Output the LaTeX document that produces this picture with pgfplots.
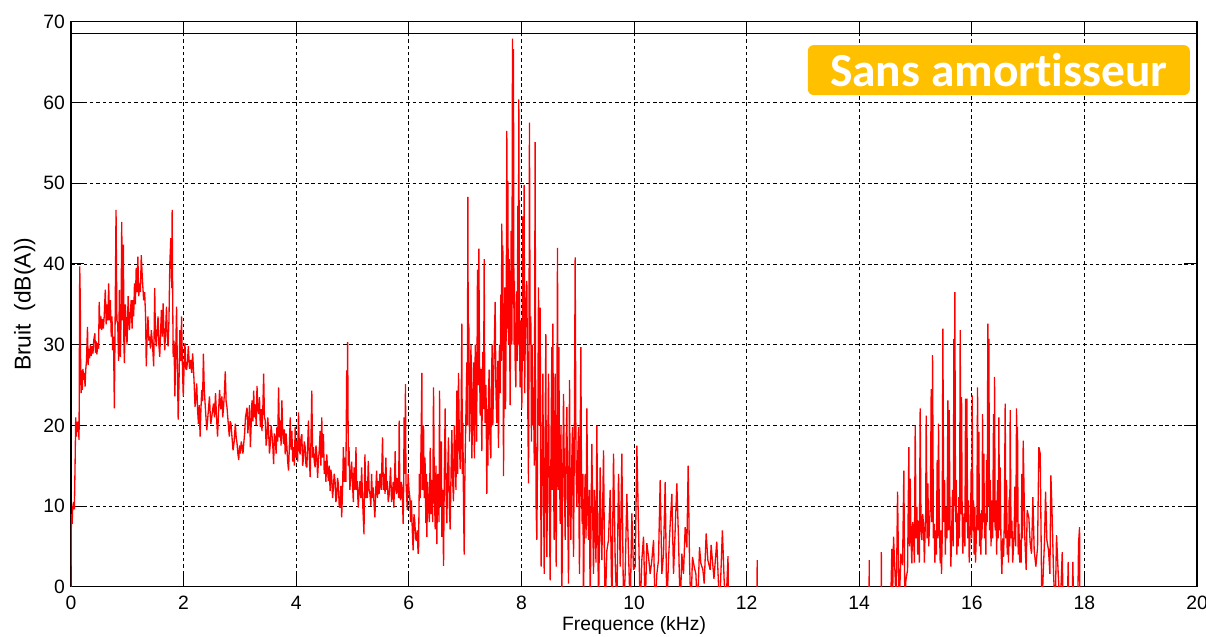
\documentclass[border=0pt]{standalone}
\usepackage{fontspec}
\setmainfont{Liberation Sans}
\newfontfamily\calib[Ligatures=NoCommon]{Carlito}
\usepackage{pgfplots}
\pgfplotsset{compat=1.18}
\definecolor{spec}{RGB}{255,0,0}
\definecolor{tag}{RGB}{255,192,0}

\begin{document}
\begin{tikzpicture}
\begin{axis}[
  name=ax, scale only axis, width=22.52cm, height=11.3cm,
  xmin=0, xmax=20, ymin=0, ymax=70,
  xtick={0,2,...,20}, ytick={0,10,...,70},
  tick align=inside, major tick length=0.26cm,
  tick style={black, line width=0.5pt},
  grid=major,
  major grid style={black, line width=0.4pt, dash pattern=on 2pt off 1.6pt},
  axis line style={black, line width=0.6pt},
  font=\fontsize{11}{13}\selectfont,
  /pgf/number format/assume math mode=true,
  xticklabel style={yshift=-1.7pt},
  xlabel={Frequence (kHz)}, ylabel={Bruit\hspace{0.55em}(dB(A))},
  xlabel style={at={(axis description cs:0.5,-0.069)}, anchor=center},
  ylabel style={at={(axis description cs:-0.041,0.5)}, anchor=center,
                font=\fontsize{13}{15}\selectfont},
]
% upper reference line
\addplot[black, line width=0.6pt, forget plot] coordinates {(0,68.5) (20,68.5)};

% noise spectrum (dB(A)) versus frequency (kHz)
\addplot[spec, line width=0.75pt, line join=bevel] coordinates {
(0.000,0.0) (0.004,6.5) (0.010,9.0) (0.020,7.8) (0.030,9.8) (0.045,10.5) (0.060,9.6) (0.072,14.9) (0.084,21.0) (0.095,18.6) (0.105,20.4) (0.113,19.2) (0.125,20.5) (0.143,18.2) (0.155,39.7) (0.165,35.5) (0.172,26.0) (0.180,24.0) (0.190,26.8) (0.200,24.4) (0.212,27.0) (0.225,25.6) (0.238,26.5) (0.250,24.8) (0.262,26.9) (0.275,28.0) (0.293,32.2) (0.305,27.5) (0.318,29.5) (0.330,28.3) (0.345,30.0) (0.360,28.6) (0.375,29.8) (0.390,28.9) (0.405,30.6) (0.424,31.4) (0.435,29.0) (0.448,30.4) (0.460,28.8) (0.475,30.2) (0.490,29.5) (0.501,35.3) (0.515,32.0) (0.530,33.5) (0.545,31.8) (0.560,33.2) (0.575,32.0) (0.590,33.5) (0.609,36.8) (0.625,32.5) (0.640,35.0) (0.655,33.0) (0.669,37.6) (0.685,33.0) (0.699,35.5) (0.715,31.0) (0.728,33.5) (0.740,29.3) (0.755,31.0) (0.770,22.1) (0.785,34.0) (0.800,46.7) (0.815,33.0) (0.830,32.6) (0.845,28.0) (0.860,36.8) (0.870,31.0) (0.878,28.5) (0.890,34.0) (0.901,45.2) (0.915,33.0) (0.931,42.4) (0.940,30.0) (0.949,27.7) (0.965,35.0) (0.979,32.6) (0.995,30.0) (1.015,36.0) (1.027,33.0) (1.039,31.8) (1.055,34.0) (1.069,35.5) (1.085,32.0) (1.099,35.5) (1.113,33.5) (1.128,37.6) (1.143,35.0) (1.158,39.5) (1.172,36.5) (1.188,40.9) (1.203,36.0) (1.218,37.6) (1.233,36.5) (1.248,41.1) (1.266,38.4) (1.290,35.5) (1.308,36.5) (1.325,33.5) (1.337,27.3) (1.352,31.0) (1.367,33.5) (1.382,30.5) (1.397,31.0) (1.412,29.5) (1.427,31.8) (1.448,30.0) (1.469,27.3) (1.487,37.0) (1.500,31.0) (1.516,29.8) (1.531,32.0) (1.546,33.5) (1.561,30.0) (1.576,28.5) (1.591,31.5) (1.606,34.3) (1.621,31.0) (1.636,35.1) (1.651,31.5) (1.666,29.3) (1.681,32.0) (1.696,34.7) (1.710,31.0) (1.725,29.8) (1.740,33.0) (1.755,40.0) (1.773,43.2) (1.790,37.0) (1.797,46.7) (1.806,36.0) (1.815,28.5) (1.830,30.5) (1.845,23.6) (1.860,29.0) (1.875,34.7) (1.890,27.0) (1.904,20.7) (1.920,26.0) (1.934,31.8) (1.950,28.0) (1.964,33.5) (1.980,27.0) (1.994,23.6) (2.010,27.5) (2.024,30.2) (2.040,27.0) (2.054,26.9) (2.070,28.0) (2.084,29.8) (2.105,27.0) (2.125,28.1) (2.143,26.5) (2.161,28.9) (2.185,25.6) (2.203,22.3) (2.218,23.5) (2.233,25.2) (2.248,22.0) (2.263,20.2) (2.278,22.5) (2.293,18.6) (2.308,22.0) (2.322,24.4) (2.337,23.0) (2.352,28.9) (2.367,24.5) (2.382,22.7) (2.397,21.0) (2.412,19.4) (2.436,21.5) (2.460,23.6) (2.472,21.5) (2.484,20.2) (2.508,21.5) (2.531,22.7) (2.549,21.0) (2.567,24.0) (2.585,21.0) (2.603,18.6) (2.620,21.5) (2.639,24.4) (2.660,22.0) (2.681,23.6) (2.695,21.0) (2.710,22.3) (2.725,24.0) (2.740,26.7) (2.755,23.0) (2.770,22.3) (2.790,20.5) (2.812,18.6) (2.827,20.5) (2.842,20.2) (2.860,18.5) (2.878,16.9) (2.898,18.0) (2.919,20.2) (2.934,18.5) (2.949,17.8) (2.964,16.5) (2.979,15.7) (2.994,17.5) (3.009,16.5) (3.024,18.0) (3.039,17.4) (3.054,16.5) (3.069,17.8) (3.084,19.0) (3.099,21.0)
(3.127,22.2) (3.141,19.0) (3.156,20.6) (3.171,22.5) (3.186,17.3) (3.200,20.0) (3.215,23.1) (3.230,20.5) (3.245,24.3) (3.259,21.0) (3.274,22.6) (3.289,20.0) (3.304,24.9) (3.318,22.0) (3.333,21.4) (3.348,23.5) (3.363,19.8) (3.377,22.0) (3.392,19.3) (3.407,22.0) (3.422,26.4) (3.436,21.0) (3.451,20.6) (3.466,17.5) (3.481,18.5) (3.495,21.0) (3.510,19.3) (3.525,16.5) (3.540,17.7) (3.554,20.0) (3.569,18.9) (3.584,17.5) (3.599,15.2) (3.613,19.0) (3.628,18.5) (3.643,16.5) (3.658,19.8) (3.672,18.0) (3.687,24.7) (3.702,18.5) (3.717,20.6) (3.731,17.5) (3.746,23.1) (3.761,19.0) (3.776,17.7) (3.790,19.5) (3.805,16.4) (3.820,19.0) (3.835,17.3) (3.849,15.5) (3.864,14.4) (3.879,17.5) (3.894,21.0) (3.908,17.0) (3.923,19.3) (3.938,15.5) (3.953,17.3) (3.967,15.0) (3.982,19.8) (3.997,16.0) (4.012,18.1) (4.026,15.5) (4.041,21.6) (4.056,17.0) (4.071,16.4) (4.085,18.5) (4.100,18.9) (4.115,15.0) (4.130,16.0) (4.144,18.0) (4.159,17.3) (4.174,15.0) (4.189,14.8) (4.203,17.5) (4.218,20.6) (4.233,16.0) (4.248,13.6) (4.262,18.0) (4.277,24.3) (4.292,16.0) (4.307,17.3) (4.321,15.5) (4.336,14.8) (4.351,17.5) (4.366,16.4) (4.380,13.5) (4.395,15.6) (4.410,17.0) (4.425,19.3) (4.439,15.0) (4.454,21.0) (4.469,16.0) (4.484,18.9) (4.498,14.0) (4.513,15.6) (4.528,13.0) (4.543,16.4) (4.557,14.5) (4.572,13.1) (4.587,15.0) (4.602,11.9) (4.616,14.5) (4.631,13.6) (4.646,11.0) (4.661,12.3) (4.675,14.0) (4.690,13.1) (4.705,10.5) (4.720,11.1) (4.734,13.5) (4.749,12.7) (4.764,10.0) (4.779,9.8) (4.793,12.5) (4.808,8.6) (4.823,12.0) (4.838,17.3) (4.852,13.0) (4.867,16.0) (4.882,13.0) (4.897,26.8) (4.905,20.0) (4.914,30.3) (4.926,15.0) (4.938,17.3) (4.953,12.0) (4.968,13.6) (4.985,15.5) (5.003,12.3) (5.015,10.5) (5.027,14.8) (5.045,12.0) (5.062,17.3) (5.074,12.0) (5.086,13.1) (5.095,11.0) (5.103,9.8) (5.118,12.0) (5.133,13.1) (5.148,11.0) (5.162,14.8) (5.183,10.0) (5.204,6.5) (5.212,12.0) (5.221,16.4) (5.236,11.0) (5.251,13.1) (5.265,11.0) (5.280,15.6) (5.295,12.0) (5.310,11.5) (5.325,10.0) (5.339,14.0) (5.354,11.0) (5.369,12.3) (5.384,10.0) (5.398,8.6) (5.413,12.0) (5.428,14.4) (5.443,11.0) (5.457,13.1) (5.472,11.5) (5.487,14.0) (5.510,12.0) (5.534,18.5) (5.548,12.0) (5.563,14.0) (5.578,11.5) (5.593,16.0) (5.605,12.0) (5.617,13.1) (5.635,10.5) (5.652,11.5) (5.664,13.0) (5.676,14.8) (5.694,10.5) (5.711,11.5) (5.723,13.0) (5.735,9.8) (5.746,13.0) (5.758,16.8) (5.770,12.0) (5.782,11.5) (5.797,13.5) (5.811,12.3) (5.820,11.0) (5.829,20.6) (5.841,12.0) (5.853,10.7) (5.868,13.0) (5.882,11.9) (5.891,10.0) (5.900,7.8) (5.908,12.0) (5.917,21.0) (5.929,14.0) (5.941,25.1) (5.950,13.0) (5.959,11.5) (5.974,9.5) (5.988,14.0) (6.003,12.0) (6.018,11.1) (6.032,8.0) (6.047,10.7) (6.062,7.0) (6.077,4.5) (6.092,9.0) (6.106,8.2) (6.121,6.0) (6.136,5.7) (6.150,7.0) (6.165,4.1)
(6.173,4.4) (6.188,14.0) (6.203,11.0) (6.218,18.0) (6.232,26.5) (6.241,12.0) (6.250,15.0) (6.262,20.0) (6.274,11.0) (6.288,16.0) (6.303,7.9) (6.312,14.0) (6.321,6.2) (6.335,13.0) (6.350,10.1) (6.365,8.0) (6.380,17.2) (6.395,9.0) (6.410,13.2) (6.425,8.0) (6.439,24.7) (6.454,12.0) (6.469,7.1) (6.483,15.0) (6.498,5.3) (6.513,14.0) (6.528,11.5) (6.537,8.0) (6.546,24.3) (6.558,10.0) (6.569,14.1) (6.578,18.0) (6.587,6.2) (6.602,12.0) (6.617,2.6) (6.631,14.0) (6.646,22.1) (6.661,12.0) (6.676,7.9) (6.690,14.0) (6.705,18.5) (6.720,10.0) (6.735,7.1) (6.750,14.0) (6.765,19.4) (6.780,13.0) (6.794,10.6) (6.809,20.0) (6.824,15.9) (6.838,12.0) (6.853,24.3) (6.868,14.0) (6.883,26.5) (6.898,18.0) (6.913,14.6) (6.928,20.0) (6.942,32.6) (6.951,14.0) (6.960,20.3) (6.972,10.0) (6.984,4.0) (6.993,12.0)
(7.001,15.9) (7.016,22.0) (7.031,27.8) (7.040,20.0) (7.049,48.3) (7.058,25.0) (7.066,32.6) (7.078,18.0) (7.090,24.7) (7.105,30.0) (7.120,15.9) (7.135,22.0) (7.149,27.8) (7.158,20.0) (7.167,15.9) (7.180,30.0) (7.191,24.7) (7.205,18.0) (7.220,39.3) (7.232,25.0) (7.244,41.9) (7.256,28.0) (7.268,21.2) (7.282,27.0) (7.297,16.8) (7.306,24.0) (7.315,29.1) (7.327,22.0) (7.339,40.6) (7.348,26.0) (7.356,20.3) (7.371,25.0) (7.386,11.5) (7.395,22.0) (7.404,15.0) (7.416,24.0) (7.427,26.9) (7.442,18.0) (7.457,15.9) (7.469,26.0) (7.481,30.0) (7.492,20.0) (7.504,24.7) (7.519,30.0) (7.534,35.3) (7.548,24.0) (7.563,20.3) (7.580,28.0) (7.593,17.2) (7.602,26.0) (7.611,30.0) (7.622,24.0) (7.634,36.2) (7.643,28.0) (7.652,45.0) (7.661,30.0) (7.670,42.3) (7.682,13.7) (7.694,28.0) (7.705,37.1) (7.718,22.0) (7.729,31.3) (7.741,56.5) (7.750,32.0) (7.759,50.3) (7.770,30.0) (7.782,40.6) (7.800,22.5) (7.809,34.0) (7.818,44.1) (7.830,30.0) (7.842,67.9) (7.851,35.0) (7.859,66.6) (7.868,30.0) (7.877,37.9) (7.889,28.0) (7.901,24.7) (7.910,32.0) (7.918,36.6) (7.927,28.0) (7.936,47.2) (7.945,30.0) (7.954,60.4) (7.966,30.0) (7.978,24.7) (7.993,33.0) (8.007,22.1) (8.016,30.0) (8.025,45.9) (8.037,28.0) (8.049,49.8) (8.058,24.0) (8.066,29.1) (8.080,35.0) (8.096,37.9) (8.110,25.0) (8.126,12.8) (8.135,30.0) (8.143,57.5) (8.155,30.0) (8.167,33.5) (8.179,18.0) (8.191,30.0) (8.203,20.0) (8.214,24.7) (8.229,15.0) (8.244,55.1) (8.253,22.0) (8.262,9.7)
(8.274,5.8) (8.289,18.0) (8.304,37.1) (8.318,20.0) (8.334,34.6) (8.342,14.0) (8.351,2.5) (8.366,15.0) (8.381,26.4) (8.393,12.0) (8.405,1.6) (8.420,18.0) (8.434,31.3) (8.443,10.0) (8.452,3.7) (8.467,15.0) (8.482,26.4) (8.496,10.0) (8.511,0.8) (8.526,18.0) (8.541,29.7) (8.550,12.0) (8.559,32.6) (8.570,15.0) (8.582,5.8) (8.591,18.0) (8.600,26.4) (8.609,10.0) (8.618,2.5) (8.630,20.0) (8.641,42.0) (8.653,12.0) (8.665,29.7) (8.677,15.0) (8.689,7.8) (8.703,20.0) (8.718,-3) (8.733,12.0) (8.748,23.9) (8.763,14.0) (8.778,5.8) (8.792,16.0) (8.807,22.3) (8.822,10.0) (8.837,0.4) (8.846,14.0) (8.855,25.6) (8.866,12.0) (8.878,5.8) (8.893,15.0) (8.908,19.8) (8.917,10.0) (8.926,3.7) (8.940,18.0) (8.955,40.8) (8.970,15.0) (8.985,9.9) (9.000,16.0) (9.015,19.8) (9.023,8.0) (9.032,1.6) (9.044,18.0) (9.056,29.7) (9.068,12.0) (9.080,7.8) (9.092,14.0) (9.103,-3) (9.118,9.0) (9.133,14.0) (9.148,6.0) (9.163,22.1) (9.177,10.0) (9.192,5.8) (9.207,12.0) (9.222,-3) (9.236,8.0) (9.251,17.7) (9.266,9.0) (9.281,1.6) (9.296,12.0) (9.311,7.0) (9.325,3.0) (9.340,20.0) (9.355,8.0) (9.370,-3) (9.385,6.0) (9.399,14.8) (9.414,7.0) (9.429,3.3) (9.444,10.0) (9.459,16.9) (9.474,5.0) (9.488,-3) (9.518,4.5) (9.547,5.8) (9.577,12.0) (9.607,-3) (9.636,16.5) (9.666,3.3) (9.695,-3) (9.725,14.0) (9.755,2.5) (9.784,16.5) (9.814,-3) (9.843,1.6) (9.873,11.5) (9.903,4.1) (9.932,-3) (9.962,9.1) (9.991,2.1) (10.021,2.5) (10.051,17.5) (10.080,7.4) (10.110,-3) (10.139,3.3) (10.169,6.2) (10.199,-3) (10.228,5.4) (10.258,3.7) (10.287,1.6) (10.317,3.3) (10.347,5.8) (10.376,-3) (10.406,1.6) (10.435,3.3) (10.465,13.2) (10.495,1.6) (10.524,4.1) (10.554,13.0) (10.583,-3) (10.613,3.3) (10.643,7.8) (10.672,11.5) (10.702,1.6) (10.731,7.0) (10.761,12.8) (10.791,5.8) (10.820,-3) (10.850,4.1) (10.879,1.6) (10.909,7.4) (10.939,4.9) (10.962,15.0) (10.986,3.3) (11.010,-3) (11.039,3.7) (11.069,2.5) (11.099,1.6) (11.128,-3) (11.164,4.9) (11.188,2.9) (11.223,2.1) (11.247,0.4) (11.282,6.6) (11.312,3.3) (11.353,2.1) (11.370,5.2) (11.420,1.0) (11.470,5.6) (11.520,-3) (11.570,7.0) (11.600,1.0) (11.630,-3) (11.670,3.8) (11.690,-10)
(12.180,-10) (12.188,3.3) (12.196,-10) (14.170,-10) (14.178,3.3) (14.186,-10) (14.385,-10) (14.393,4.3) (14.401,-10)
(14.551,-5) (14.580,4.7) (14.592,-2) (14.610,6.2) (14.639,1.2) (14.657,-3) (14.681,11.8) (14.710,-3) (14.740,4.1) (14.770,2.7) (14.793,14.4) (14.811,-3) (14.829,0.8) (14.859,2.1) (14.882,17.3) (14.894,5.0) (14.906,13.4) (14.920,6.0) (14.935,2.9) (14.950,8.0) (14.965,6.6) (14.980,3.0) (14.995,20.0) (15.010,6.0) (15.024,9.9) (15.039,4.0) (15.054,8.2) (15.068,3.0) (15.083,22.1) (15.098,7.0) (15.113,5.8) (15.128,9.0) (15.143,7.6) (15.158,3.0) (15.172,7.4) (15.181,9.0) (15.190,21.2) (15.205,6.0) (15.220,12.8) (15.235,5.0) (15.249,7.8) (15.264,10.0) (15.279,24.5) (15.291,8.0) (15.303,28.7) (15.318,6.0) (15.332,7.8) (15.344,3.0) (15.356,7.0) (15.370,4.0) (15.385,15.7) (15.397,6.0) (15.409,20.2) (15.424,8.0) (15.439,2.9) (15.450,7.0) (15.462,1.6) (15.474,6.0) (15.486,32.0) (15.501,8.0) (15.516,13.2) (15.530,4.0) (15.545,9.9) (15.560,6.0) (15.575,23.1) (15.587,7.0) (15.599,21.9) (15.613,8.0) (15.628,2.5) (15.643,7.0) (15.658,12.0) (15.670,5.0) (15.682,30.7) (15.690,10.0) (15.699,36.5) (15.711,8.0) (15.723,13.2) (15.735,4.0) (15.747,9.1) (15.758,5.0) (15.770,11.1) (15.782,6.0) (15.794,31.8) (15.806,9.0) (15.818,23.5) (15.830,7.0) (15.841,4.1) (15.853,8.0) (15.865,9.1) (15.877,5.0) (15.889,23.3) (15.900,8.0) (15.912,23.3) (15.927,6.0) (15.942,10.7) (15.954,3.0) (15.966,5.8) (15.978,8.0) (15.989,14.6) (15.998,6.0) (16.007,23.7) (16.019,7.0) (16.031,10.7) (16.042,4.0) (16.054,9.9) (16.066,3.0) (16.078,5.8) (16.090,8.0) (16.102,24.7) (16.113,7.0) (16.125,19.2) (16.137,5.0) (16.149,9.1) (16.161,4.0) (16.173,9.5) (16.182,6.0) (16.191,21.4) (16.202,8.0) (16.214,16.5) (16.226,6.0) (16.238,9.1) (16.250,4.0) (16.262,15.7) (16.273,8.0) (16.285,32.6) (16.294,10.0) (16.303,30.7) (16.315,7.0) (16.327,13.2) (16.341,5.0) (16.356,10.7) (16.371,6.0) (16.386,21.4) (16.395,8.0) (16.404,26.0) (16.415,7.0) (16.427,10.7) (16.442,4.0) (16.457,13.2) (16.469,6.0) (16.481,21.0) (16.492,7.0) (16.504,14.8) (16.519,5.0) (16.534,1.6) (16.549,6.0) (16.564,3.7) (16.578,8.0) (16.593,22.7) (16.605,6.0) (16.617,13.2) (16.629,4.0) (16.641,7.0) (16.652,3.0) (16.664,11.1) (16.673,5.0) (16.682,21.9) (16.697,6.0) (16.712,8.2) (16.726,3.0) (16.741,4.9) (16.753,7.0) (16.765,12.4) (16.780,5.0) (16.795,22.1) (16.803,8.0) (16.812,19.8) (16.824,4.0) (16.836,7.8) (16.851,3.0) (16.866,5.8) (16.877,3.0) (16.889,14.0) (16.901,6.0) (16.913,18.1) (16.943,5.8) (16.966,2.1) (16.984,9.5) (17.014,8.5) (17.037,5.4) (17.061,4.1) (17.085,11.1) (17.108,4.5) (17.138,2.5) (17.168,4.9) (17.191,17.3) (17.215,16.5) (17.245,-3) (17.268,1.6) (17.292,5.8) (17.310,11.8) (17.333,5.8) (17.363,4.5) (17.387,1.6) (17.405,13.8) (17.428,8.5) (17.452,1.6) (17.481,-3) (17.505,6.4) (17.535,1.6) (17.570,-3) (17.606,4.3) (17.629,-5) (17.689,-5) (17.712,3.1) (17.730,-5) (17.777,-5) (17.795,3.1) (17.813,-5) (17.878,-5) (17.896,5.4) (17.914,7.4) (17.925,-10)
};

\node[fill=tag, rounded corners=0.12cm, minimum width=7.64cm, minimum height=1.0cm,
      inner sep=0pt, text=white, font=\calib\bfseries\fontsize{27}{30}\selectfont]
  at (rel axis cs:0.824,0.9145) {Sans amortisseur};
\end{axis}
\pgfresetboundingbox
\path[use as bounding box] ([shift={(-1.42cm,-0.986cm)}]ax.south west)
  rectangle ([shift={(0.18cm,0.436cm)}]ax.north east);
\end{tikzpicture}
\end{document}
